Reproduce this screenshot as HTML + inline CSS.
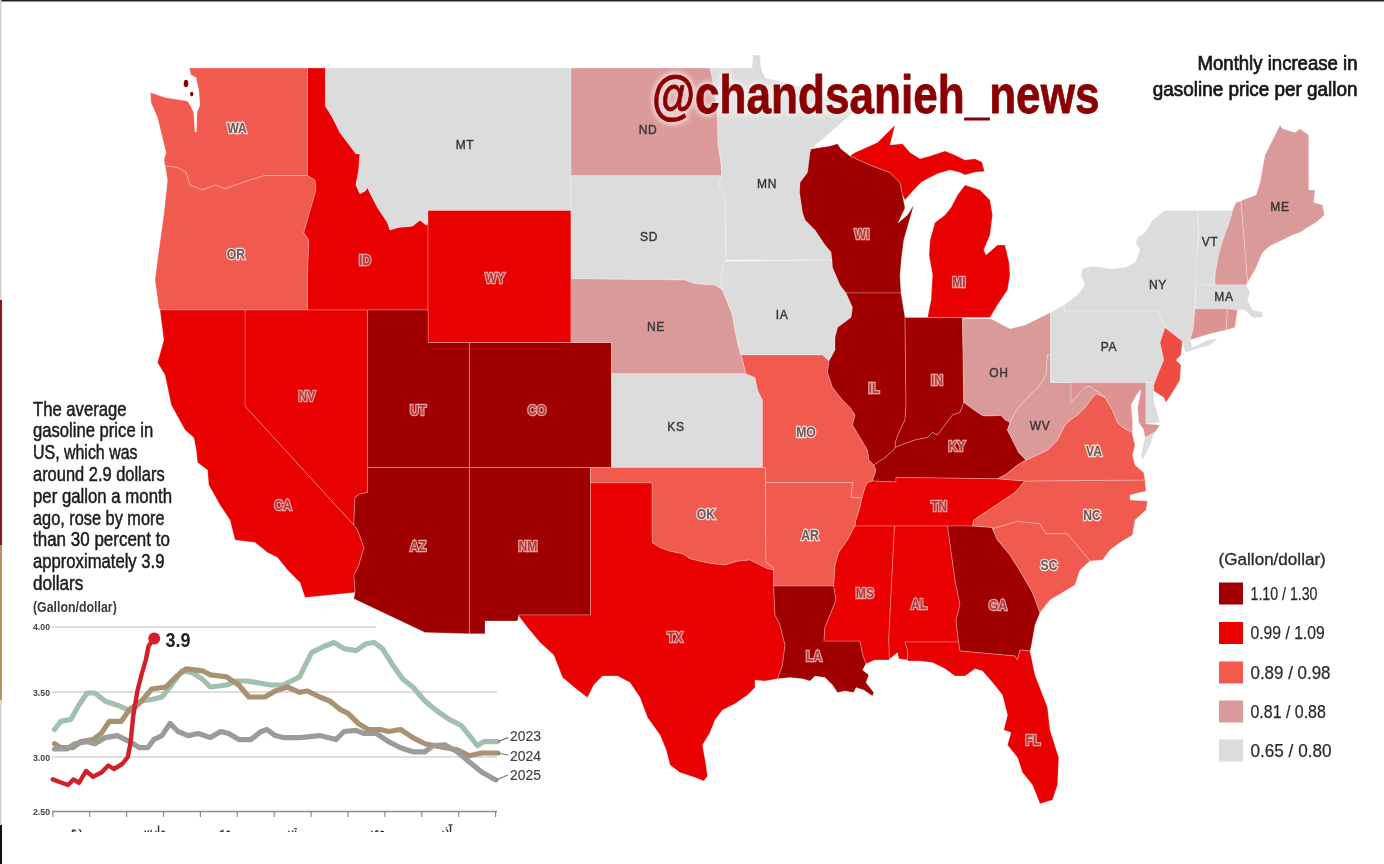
<!DOCTYPE html>
<html lang="en">
<head>
<meta charset="utf-8">
<title>Monthly increase in gasoline price per gallon</title>
<style>
html,body{margin:0;padding:0;background:#fff;}
body{width:1384px;height:864px;position:relative;overflow:hidden;font-family:"Liberation Sans",sans-serif;}
#map{position:absolute;left:0;top:0;display:block;}
text{font-family:"Liberation Sans",sans-serif;}
</style>
</head>
<body>
<svg id="map" width="1384" height="864" viewBox="0 0 1384 864">
<defs><filter id="glow" x="-5%" y="-30%" width="110%" height="160%"><feGaussianBlur stdDeviation="2.2"/></filter></defs>
<rect x="0" y="0" width="1384" height="1.5" fill="#222"/>
<rect x="0" y="0" width="1.5" height="864" fill="#d6d0c6"/>
<rect x="0" y="300" width="2" height="245" fill="#8a1a1a"/>
<rect x="0" y="545" width="2" height="155" fill="#b8915f"/>
<rect x="0" y="825" width="2" height="39" fill="#111"/>
<g stroke="#fff" stroke-opacity=".26" stroke-width="1" stroke-linejoin="round">
<polygon fill="#f15a4e" points="189.25,68 307.5,68 307.5,175.5 265,175.5 250,180 225,188.75 215,185 202.5,190 190,185 186,172.5 177.5,167.5 165,166 164,160 166,152.5 157.5,117.5 151,102.5 150.5,92.5 165,97.5 187.5,101 190,105 193.75,112.5 195,132 196.5,132 197,112.5 200,105 198.75,90 196,77.5 191,75"/>
<polygon fill="#f15a4e" points="165,166 177.5,167.5 186,172.5 190,185 202.5,190 215,185 225,188.75 250,180 265,175.5 307.5,175.5 315,180 316,190 303.75,232.5 308.75,240 307.5,276 307.5,310 160,310 158.75,307.5 155,280 157.5,260 163.75,215 167.5,180 166,171"/>
<polygon fill="#e90000" points="307.5,68 325.5,68 325.5,106 332.5,117.5 340,132.5 347.5,142.5 356,153.75 360,153.75 358.75,170 356,185 360,193.75 365,191 367.5,187.5 371,195 377.5,207.5 387.5,222.5 390,230 397.5,227.5 412.5,226 420,220 426,225 428,224 428,310 307.5,310 307.5,276 308.75,240 303.75,232.5 316,190 315,180 307.5,175.5"/>
<polygon fill="#dcdcdc" points="571,68 571,210.5 428,210.5 428,224 426,225 420,220 412.5,226 397.5,227.5 390,230 387.5,222.5 377.5,207.5 371,195 367.5,187.5 365,191 360,193.75 356,185 358.75,170 360,153.75 356,153.75 347.5,142.5 340,132.5 332.5,117.5 325.5,106 325.5,68"/>
<polygon fill="#e90000" points="428,210.5 571,210.5 571,342.5 428,342.5"/>
<polygon fill="#a00000" points="367.5,310 428,310 428,342.5 469.5,342.5 469.5,467.5 367.5,467.5"/>
<polygon fill="#a00000" points="469.5,342.5 611.5,342.5 611.5,467.5 469.5,467.5"/>
<polygon fill="#e90000" points="245,310 367.5,310 367.5,467.5 367.5,492.5 360,493.75 355,497.5 353.75,525 245,406.25"/>
<polygon fill="#a00000" points="367.5,467.5 367.5,492.5 360,493.75 355,497.5 353.75,525 357.5,530 363.75,547.5 358.75,565 353.75,575 355,592.5 353.75,598.75 425,632.5 469.5,633.75 469.5,467.5"/>
<polygon fill="#a00000" points="469.5,467.5 590.5,467.5 590.5,615 518.75,615 517.5,621 485,621 485,633.75 469.5,633.75"/>
<polygon fill="#e90000" points="160,310 245,310 245,406.25 353.75,525 357.5,530 363.75,547.5 358.75,565 353.75,575 355,592.5 305,597.5 300,582.5 287.5,570 277.5,557.5 267.5,552.5 255,542.5 235,540 230,520 220,505 208.75,485 207.5,470 197.5,462.5 196.25,450 193.75,437.5 185,430 171.25,405 165,375 157.5,362.5 163.75,340"/>
<polygon fill="#db9a9a" points="571,68 710,68 713.75,85 717.5,110 718,142.5 721.25,165 721.75,175.75 571,175.75"/>
<polygon fill="#dcdcdc" points="571,175.75 721.75,175.75 718.75,185 725,195 726,260 725,261 723.75,262.5 721,280 722.5,290 722.5,290 715,285 695,283.75 685,280 571,278.75"/>
<polygon fill="#db9a9a" points="571,278.75 685,280 695,283.75 715,285 722.5,290 727.5,302.5 732.5,315 735,330 738.75,347.5 741,355 742.5,360 746,373.75 611.5,373.75 611.5,342.5 571,342.5"/>
<polygon fill="#dcdcdc" points="611.5,373.75 746,373.75 755,377.5 757.5,390 762.5,400 762.5,467.5 611.5,467.5"/>
<polygon fill="#f15a4e" points="590.5,467.5 765.5,467.5 765.5,482.5 766,562 773.75,568 773.75,570 767.5,568.75 760,565 750,560 737.5,561.25 725,565 712.5,563.75 700,561.25 690,558.75 682.5,553.75 670,551.25 660,547.5 652,542.5 652,483 590.5,483"/>
<polygon fill="#e90000" points="590.5,483 652,483 652,542.5 660,547.5 670,551.25 682.5,553.75 690,558.75 700,561.25 712.5,563.75 725,565 737.5,561.25 750,560 760,565 767.5,568.75 773.75,570 773.75,586 773.75,590 775,615 780,625 785,645 782.5,665 777.5,678.75 765,681 755,680 755,687.5 747.5,695 735,703.75 722.5,710 715,720 710,732.5 702.5,745 706,765 707.5,776 703.75,781 695,777.5 680,772.5 670,765 666.25,750 660,735 647.5,717.5 640,697.5 630,682.5 617.5,676 602.5,676 593.75,685 587.5,697.5 577.5,690 562.5,677.5 553.75,655 540,642.5 527.5,627.5 518.75,616 518.75,615 590.5,615"/>
<polygon fill="#dcdcdc" points="710,68 752,68 753,55 760,55 761,68 765,78 784,82 813,91 837,100 863,104 840,124 811,149 810,152.5 807.5,172.5 800,182.5 799.5,192.5 802.5,212.5 805,220 815,230 825,245 831,252 832,260 726,260 725,195 718.75,185 721.75,175.75 721.25,165 718,142.5 717.5,110 713.75,85 710,68"/>
<polygon fill="#dcdcdc" points="725,261 832,260 832.5,267.5 840,285 846,293 852.5,307.5 851,317.5 837.5,327.5 835,337.5 835,350 829,361 822.5,355 741,355 738.75,347.5 735,330 732.5,315 727.5,302.5 722.5,290 721,280 723.75,262.5"/>
<polygon fill="#f15a4e" points="741,355 822.5,355 829,361 827.5,372.5 832.5,387.5 842.5,400 850,407.5 855,415 852.5,425 860,437.5 867.5,450 869,460 873.75,465 876,470 872.5,481 867.5,482.5 865,487.5 862,498 851,497.5 852.5,482.5 765.5,482.5 765.5,467.5 762.5,467.5 762.5,400 757.5,390 755,377.5 746,373.75 742.5,360"/>
<polygon fill="#f15a4e" points="765.5,482.5 852.5,482.5 851,497.5 862,498 860,507.5 856,520 855,526 847.5,540 838.75,552.5 835,565 833.75,586 773.75,586 773.75,568 766,562"/>
<polygon fill="#a00000" points="773.75,586 833.75,586 836,600 830,615 825,627.5 824,641 860,641 862.5,653.75 866,663.75 862.5,670 868.75,675 866,682.5 873.75,692.5 872.5,696 863.75,690 856,687.5 853.75,692.5 845,691 837.5,692.5 832.5,685 825,677.5 815,676 810,681 802.5,678.75 790,677.5 777.5,678.75 782.5,665 785,645 780,625 775,615 773.75,590 773.75,586"/>
<polygon fill="#a00000" points="811,149 830,146 837.5,143.75 841,149 850,156 870,165 890,172.5 900,182.5 902.5,195 905,208 898,223 907.5,215 913.75,205 908.75,222.5 903.75,240 901.25,260 900,276 901,293 846,293 840,285 832.5,267.5 832,260 831,252 825,245 815,230 805,220 802.5,212.5 799.5,192.5 800,182.5 807.5,172.5 810,152.5 811,149"/>
<polygon fill="#a00000" points="846,293 901,293 905,317.5 906,405 905,420 900,430 896,440 895,447.5 893.75,450 885,457.5 873.75,465 869,460 867.5,450 860,437.5 852.5,425 855,415 850,407.5 842.5,400 832.5,387.5 827.5,372.5 829,361 835,350 835,337.5 837.5,327.5 851,317.5 852.5,307.5 846,293"/>
<polygon fill="#a00000" points="905,317.5 962.5,317.5 963.75,402.5 960,412.5 952.5,415 945,425 937.5,435 932.5,432.5 927.5,437.5 915,440 907.5,442.5 895,447.5 896,440 900,430 905,420 906,405 905,317.5"/>
<polygon fill="#e90000" points="850,156 855,152.5 877.5,142.5 887.5,132.5 895,125 892.5,135 890,145 902.5,143.75 910,152.5 920,158.75 930,156 945,151 955,155 965,160 975,158.75 982,162 984.5,171.5 976,172 965,175 960,172.5 950,170 937.5,173.75 927.5,178.75 921,182.5 913.75,190 905,200 902.5,195 900,182.5 890,172.5 870,165 850,156"/>
<polygon fill="#e90000" points="927.5,317.5 931,300 932.5,275 929,255 930,240 935,222.5 945,215 951,207.5 957.5,195 965,185 980,190 990,200 992.5,215 990,235 983.75,250 986,255 997.5,245 1005,245 1009,262 1010,275 1007.5,290 997.5,305 990,317.5"/>
<polygon fill="#db9a9a" points="962.5,318.75 991,318.75 1010,328.75 1025,325 1050.5,312.5 1050.5,355 1047.5,355 1046,375 1040,385 1032.5,392.5 1022.5,402.5 1015,412.5 1010,422.5 1005,420 1001,415.5 992.5,416 983,416 972.5,409 963.75,402.5"/>
<polygon fill="#a00000" points="873.75,465 885,457.5 893.75,450 895,447.5 907.5,442.5 915,440 927.5,437.5 932.5,432.5 937.5,435 945,425 952.5,415 960,412.5 963.75,402.5 972.5,409 983,416 992.5,416 1001,415.5 1005,420 1010,422.5 1007.5,430 1013.75,442.5 1018.75,452.5 1026,460 1017.5,465 1005,475 997.5,478.75 896,477.5 896,482 872.5,481 876,470"/>
<polygon fill="#e90000" points="867.5,482.5 872.5,481 896,482 896,477.5 997.5,478.75 1025,481 1015,492.5 1000,502.5 985,512.5 973.75,520 972.5,526 855,526 856,520 860,507.5 862,498 865,487.5"/>
<polygon fill="#e90000" points="855,526 894.5,526 888.75,640 889.5,660 875,660 866,663.75 862.5,653.75 860,641 824,641 825,627.5 830,615 836,600 833.75,586 835,565 838.75,552.5 847.5,540 855,526"/>
<polygon fill="#e90000" points="894.5,526 947.5,526 955,580 960,605 956,620 958.5,642 905,642 907.5,650 907.5,660 898.75,658.75 897.5,652.5 890,658.75 889.5,660 888.75,640"/>
<polygon fill="#a00000" points="947.5,526 972.5,526 993.75,527.5 992.5,528.75 997.5,540 1010,555 1022.5,575 1032.5,592.5 1040,612.5 1035,625 1031,647.5 1030,651 1020,650 1017.5,660 1015,656 960,651 958.5,642 956,620 960,605 955,580 947.5,526"/>
<polygon fill="#e90000" points="905,642 958.5,642 960,651 1015,656 1017.5,660 1020,650 1030,651 1035,675 1047.5,707.5 1050,730 1058.75,757.5 1057.5,785 1052.5,800 1040,803.75 1032.5,785 1022.5,772.5 1017.5,757.5 1007.5,745 1011,732.5 1003.75,730 1007.5,715 1002.5,695 992.5,682.5 982.5,671 975,668.75 965,676 955,676 945,668.75 932.5,662.5 920,661 907.5,661 907.5,650"/>
<polygon fill="#f15a4e" points="992.5,528.75 1017.5,521.25 1040,523.75 1046,533.75 1067.5,533.75 1090,561 1080,570 1075,585 1050,600 1040,612.5 1032.5,592.5 1022.5,575 1010,555 997.5,540 992.5,528.75"/>
<polygon fill="#f15a4e" points="1025,481 1145,480 1146,491 1130,495 1130,500 1147.5,501 1146,510 1135,520 1132.5,535 1120,542.5 1110,550 1102.5,560 1090,561 1067.5,533.75 1046,533.75 1040,523.75 1017.5,521.25 992.5,528.75 993.75,527.5 972.5,526 973.75,520 985,512.5 1000,502.5 1015,492.5 1025,481"/>
<polygon fill="#f15a4e" points="1105,397.5 1112.5,410 1117.5,422.5 1122.5,427.5 1132.5,432.5 1132.5,435 1135,445 1132.5,455 1135,465 1143.75,472.5 1145,480 1025,481 997.5,478.75 1005,475 1017.5,465 1026,460 1035,456 1047.5,450 1057.5,440 1065,425 1070,420 1077.5,415 1085,407.5 1092.5,397.5 1096,393.75 1105,397.5"/>
<polygon fill="#dcdcdc" points="1145,437.5 1155,432 1150,445 1143,460 1141,455"/>
<polygon fill="#db9a9a" points="1050.5,355 1050.5,382.5 1071,382.5 1071,402.5 1077.5,395 1085,387.5 1090,386 1095,390 1100,392.5 1105,397.5 1096,393.75 1092.5,397.5 1085,407.5 1077.5,415 1070,420 1065,425 1057.5,440 1047.5,450 1035,456 1026,460 1018.75,452.5 1013.75,442.5 1007.5,430 1010,422.5 1015,412.5 1022.5,402.5 1032.5,392.5 1040,385 1046,375 1047.5,355 1050.5,355"/>
<polygon fill="#dcdcdc" points="1050.5,312.5 1063.75,305 1065,311 1157.5,311 1165,327.5 1160,342.5 1163.75,360 1157.5,375 1153.75,385 1152.5,382.5 1050.5,382.5"/>
<polygon fill="#de9292" points="1071,382.5 1146,382.5 1146,423.75 1160,425 1155,432 1145,437.5 1143.75,430 1138.75,422.5 1137.5,407.5 1141,391 1140,390 1135,397.5 1131,405 1132.5,420 1132.5,432.5 1122.5,427.5 1117.5,422.5 1112.5,410 1105,397.5 1100,392.5 1095,390 1090,386 1085,387.5 1077.5,395 1071,402.5 1071,382.5"/>
<polygon fill="#dcdcdc" points="1146,382.5 1152.5,382.5 1153.75,385 1153.75,400 1160,422.5 1146,423.75"/>
<polygon fill="#f04d42" points="1165,327.5 1182.5,341 1181,355 1176,360 1181,365 1180,380 1172.5,392.5 1166,402.5 1163.75,397.5 1153.75,391 1153.75,385 1157.5,375 1163.75,360 1160,342.5 1165,327.5"/>
<polygon fill="#dcdcdc" points="1063.75,305 1077.5,295 1085,285 1081,275 1082.5,268.75 1092.5,266 1110,268.75 1125,267.5 1135,262.5 1140,250 1136,242.5 1137.5,237.5 1145,232.5 1152.5,220 1165,210.5 1197.5,210.5 1198.75,235 1196,260 1196,285 1195,308.75 1193,330 1190,340 1192.5,347.5 1207.5,340 1217.5,338.75 1210,345 1185,352.5 1182.5,341 1165,327.5 1157.5,311 1065,311"/>
<polygon fill="#dcdcdc" points="1197.5,210.5 1232.5,210.5 1230,220 1221,245 1217.5,260 1215,275 1215,285 1196,285 1196,260 1198.75,235"/>
<polygon fill="#db9a9a" points="1236,202.5 1241,201 1247.5,280 1247.5,282.5 1246,285 1215,285 1215,275 1217.5,260 1221,245 1230,220 1232.5,210.5"/>
<polygon fill="#db9a9a" points="1241,201 1242.5,200 1256,195 1260,182.5 1265,155 1272.5,140 1280,125 1282.5,128.75 1295,132.5 1300,128.75 1308.75,135 1308.75,190 1315,190 1313.75,202.5 1322.5,205 1324.5,215 1316,222.5 1307.5,227.5 1300,232.5 1292.5,235 1282.5,240 1270,246 1262.5,252.5 1255,270 1247.5,282.5 1247.5,280"/>
<polygon fill="#dcdcdc" points="1196,285 1246,285 1250,292 1247.5,300 1252.5,310 1262.5,312 1262.5,317.5 1252.5,317.5 1245,310 1237.5,310 1195,308.75"/>
<polygon fill="#de9292" points="1195,308.75 1227.5,308.75 1226,330 1210,333.75 1190,340 1193,330"/>
<polygon fill="#de9292" points="1227.5,308.75 1237.5,310 1235,327.5 1226,330"/>
</g>
<ellipse cx="186" cy="83.5" rx="2.3" ry="3.8" fill="#8a0000"/><ellipse cx="191.7" cy="94" rx="1.7" ry="2.3" fill="#8a0000"/>
<g font-weight="bold" text-anchor="middle">
<text transform="translate(237 133) scale(1 1.15)" font-size="12.2" fill="#6a5a5a" stroke="#fbe3e1" stroke-width="2.3" stroke-opacity=".95" paint-order="stroke">WA</text>
<text transform="translate(236 259) scale(1 1.15)" font-size="12.2" fill="#6a5a5a" stroke="#fbe3e1" stroke-width="2.3" stroke-opacity=".95" paint-order="stroke">OR</text>
<text transform="translate(365 265) scale(1 1.15)" font-size="12.2" fill="#a84040" stroke="#f6a5a5" stroke-width="2.3" stroke-opacity=".95" paint-order="stroke">ID</text>
<text x="465" y="149.4" font-size="12" font-weight="normal" letter-spacing=".7" fill="#383838" stroke="#383838" stroke-width=".4">MT</text>
<text transform="translate(495 283) scale(1 1.15)" font-size="12.2" fill="#a84040" stroke="#f6a5a5" stroke-width="2.3" stroke-opacity=".95" paint-order="stroke">WY</text>
<text transform="translate(307 401) scale(1 1.15)" font-size="12.2" fill="#a84040" stroke="#f6a5a5" stroke-width="2.3" stroke-opacity=".95" paint-order="stroke">NV</text>
<text transform="translate(418 415) scale(1 1.15)" font-size="12.2" fill="#a84040" stroke="#f6a5a5" stroke-width="2.3" stroke-opacity=".95" paint-order="stroke">UT</text>
<text transform="translate(537 415) scale(1 1.15)" font-size="12.2" fill="#a84040" stroke="#f6a5a5" stroke-width="2.3" stroke-opacity=".95" paint-order="stroke">CO</text>
<text transform="translate(283 510) scale(1 1.15)" font-size="12.2" fill="#a84040" stroke="#f6a5a5" stroke-width="2.3" stroke-opacity=".95" paint-order="stroke">CA</text>
<text transform="translate(418 551) scale(1 1.15)" font-size="12.2" fill="#a84040" stroke="#f6a5a5" stroke-width="2.3" stroke-opacity=".95" paint-order="stroke">AZ</text>
<text transform="translate(528 551) scale(1 1.15)" font-size="12.2" fill="#a84040" stroke="#f6a5a5" stroke-width="2.3" stroke-opacity=".95" paint-order="stroke">NM</text>
<text x="648" y="134.4" font-size="12" font-weight="normal" letter-spacing=".7" fill="#383838" stroke="#383838" stroke-width=".4">ND</text>
<text x="649" y="241.4" font-size="12" font-weight="normal" letter-spacing=".7" fill="#383838" stroke="#383838" stroke-width=".4">SD</text>
<text x="656" y="331.4" font-size="12" font-weight="normal" letter-spacing=".7" fill="#383838" stroke="#383838" stroke-width=".4">NE</text>
<text x="676" y="431.4" font-size="12" font-weight="normal" letter-spacing=".7" fill="#383838" stroke="#383838" stroke-width=".4">KS</text>
<text transform="translate(706 519) scale(1 1.15)" font-size="12.2" fill="#6a5a5a" stroke="#fbe3e1" stroke-width="2.3" stroke-opacity=".95" paint-order="stroke">OK</text>
<text transform="translate(675 642) scale(1 1.15)" font-size="12.2" fill="#a84040" stroke="#f6a5a5" stroke-width="2.3" stroke-opacity=".95" paint-order="stroke">TX</text>
<text x="767" y="188.4" font-size="12" font-weight="normal" letter-spacing=".7" fill="#383838" stroke="#383838" stroke-width=".4">MN</text>
<text x="782" y="319.4" font-size="12" font-weight="normal" letter-spacing=".7" fill="#383838" stroke="#383838" stroke-width=".4">IA</text>
<text transform="translate(806 437) scale(1 1.15)" font-size="12.2" fill="#6a5a5a" stroke="#fbe3e1" stroke-width="2.3" stroke-opacity=".95" paint-order="stroke">MO</text>
<text transform="translate(810 540) scale(1 1.15)" font-size="12.2" fill="#6a5a5a" stroke="#fbe3e1" stroke-width="2.3" stroke-opacity=".95" paint-order="stroke">AR</text>
<text transform="translate(814 661) scale(1 1.15)" font-size="12.2" fill="#a84040" stroke="#f6a5a5" stroke-width="2.3" stroke-opacity=".95" paint-order="stroke">LA</text>
<text transform="translate(862 239) scale(1 1.15)" font-size="12.2" fill="#a84040" stroke="#f6a5a5" stroke-width="2.3" stroke-opacity=".95" paint-order="stroke">WI</text>
<text transform="translate(874 393) scale(1 1.15)" font-size="12.2" fill="#a84040" stroke="#f6a5a5" stroke-width="2.3" stroke-opacity=".95" paint-order="stroke">IL</text>
<text transform="translate(937 385) scale(1 1.15)" font-size="12.2" fill="#a84040" stroke="#f6a5a5" stroke-width="2.3" stroke-opacity=".95" paint-order="stroke">IN</text>
<text transform="translate(959 287) scale(1 1.15)" font-size="12.2" fill="#a84040" stroke="#f6a5a5" stroke-width="2.3" stroke-opacity=".95" paint-order="stroke">MI</text>
<text x="999" y="377.4" font-size="12" font-weight="normal" letter-spacing=".7" fill="#383838" stroke="#383838" stroke-width=".4">OH</text>
<text transform="translate(957 451) scale(1 1.15)" font-size="12.2" fill="#a84040" stroke="#f6a5a5" stroke-width="2.3" stroke-opacity=".95" paint-order="stroke">KY</text>
<text transform="translate(939 511) scale(1 1.15)" font-size="12.2" fill="#a84040" stroke="#f6a5a5" stroke-width="2.3" stroke-opacity=".95" paint-order="stroke">TN</text>
<text transform="translate(865 598) scale(1 1.15)" font-size="12.2" fill="#a84040" stroke="#f6a5a5" stroke-width="2.3" stroke-opacity=".95" paint-order="stroke">MS</text>
<text transform="translate(919 609) scale(1 1.15)" font-size="12.2" fill="#a84040" stroke="#f6a5a5" stroke-width="2.3" stroke-opacity=".95" paint-order="stroke">AL</text>
<text transform="translate(998 610) scale(1 1.15)" font-size="12.2" fill="#a84040" stroke="#f6a5a5" stroke-width="2.3" stroke-opacity=".95" paint-order="stroke">GA</text>
<text transform="translate(1033 745) scale(1 1.15)" font-size="12.2" fill="#a84040" stroke="#f6a5a5" stroke-width="2.3" stroke-opacity=".95" paint-order="stroke">FL</text>
<text transform="translate(1049 570) scale(1 1.15)" font-size="12.2" fill="#6a5a5a" stroke="#fbe3e1" stroke-width="2.3" stroke-opacity=".95" paint-order="stroke">SC</text>
<text transform="translate(1092 520) scale(1 1.15)" font-size="12.2" fill="#6a5a5a" stroke="#fbe3e1" stroke-width="2.3" stroke-opacity=".95" paint-order="stroke">NC</text>
<text transform="translate(1094 456) scale(1 1.15)" font-size="12.2" fill="#6a5a5a" stroke="#fbe3e1" stroke-width="2.3" stroke-opacity=".95" paint-order="stroke">VA</text>
<text x="1040" y="430.4" font-size="12" font-weight="normal" letter-spacing=".7" fill="#383838" stroke="#383838" stroke-width=".4">WV</text>
<text x="1109" y="351.4" font-size="12" font-weight="normal" letter-spacing=".7" fill="#383838" stroke="#383838" stroke-width=".4">PA</text>
<text x="1158" y="289.4" font-size="12" font-weight="normal" letter-spacing=".7" fill="#383838" stroke="#383838" stroke-width=".4">NY</text>
<text x="1210" y="246.4" font-size="12" font-weight="normal" letter-spacing=".7" fill="#383838" stroke="#383838" stroke-width=".4">VT</text>
<text x="1280" y="211.4" font-size="12" font-weight="normal" letter-spacing=".7" fill="#383838" stroke="#383838" stroke-width=".4">ME</text>
<text x="1224" y="301.4" font-size="12" font-weight="normal" letter-spacing=".7" fill="#383838" stroke="#383838" stroke-width=".4">MA</text>
</g>
<g fill="none">
<path d="M52 627H376M52 692H497M52 757H497" stroke="#dedede" stroke-width="2"/>
<path d="M52 811.5H497" stroke="#8c8c8c" stroke-width="1.6"/>
<path d="M52.8 811V817M89.7 811V817M126.6 811V817M163.5 811V817M200.4 811V817M237.3 811V817M274.2 811V817M311.1 811V817M348 811V817M384.9 811V817M421.8 811V817M458.7 811V817M495.6 811V817" stroke="#8c8c8c" stroke-width="1.2"/>
<polyline points="54.6,729.5 60.7,721.4 70.8,719.4 78.9,705.2 87,693 95,693 105.2,701.2 117.4,705.2 131.5,711.3 141.6,701 153.8,699 161.9,697 170,687 182,670.8 192.2,672.8 202.3,679 210.4,687 226.6,685 236.7,681 246.9,681 259,683 271,685 283.3,685 299.5,676.9 311.6,652.6 323.7,646.5 333.9,642.5 344,648.6 356,650.6 366.2,643.7 374.3,642.5 382.4,648.6 392.5,664.7 402.7,679 412.8,687 424.9,701 437,711 449.2,719.4 461.3,725.5 469.4,735.6 477.5,745.7 483.6,741.6 497.8,741.6" stroke="#a2c0b1" stroke-width="5.2" stroke-linejoin="round" stroke-linecap="round"/>
<polyline points="54.6,743.7 60.7,747.7 72.8,747.7 80.9,741.6 93,739.6 101.2,733.5 109.3,721.4 121.4,721.4 129.5,709.3 141.6,701 151.8,689 165.9,687 176,676.9 186.2,668.8 202.3,670.8 210.4,674.9 226.6,676.9 238.8,685 248.9,697 265,697 275.2,691 287.3,687 299.5,692.3 307.6,691 319.7,697 329.8,701 340,709.3 348,713.3 358.2,723.4 368.3,729.5 380.4,729.5 388.5,731.5 400.6,729.5 412.8,737.6 424.9,743.7 445.2,747.7 457.3,749.7 469.4,755.8 481.6,753 497.8,753" stroke="#a89272" stroke-width="5.2" stroke-linejoin="round" stroke-linecap="round"/>
<polyline points="54.6,749 66.8,749 74.9,743.7 87,741.6 95,743.7 105.2,737.6 117.4,735.6 129.5,741.6 139.6,747.7 147.7,747.7 153.8,739.6 161.9,735.6 170,723.4 178,731.5 188.2,735.6 198.3,733.5 210.4,737.6 220.6,731.5 228.7,733.5 238.8,739.6 250.9,739.6 261,731.5 267.1,729.5 275.2,735.6 283.3,737.6 299.5,737.6 319.7,735.6 335.9,739.6 344,731.5 356,730.3 364.2,733.5 376.4,733.5 388.5,741.6 400.6,747.7 412.8,751.8 424.9,751.8 433,745.7 445.2,744.9 457.3,751.8 469.4,761.9 481.6,772 495.8,780" stroke="#9b9b9b" stroke-width="5.2" stroke-linejoin="round" stroke-linecap="round"/>
<polyline points="52.8,779.4 59.7,782 68,785 73.6,779.4 79,782.8 86,771 93,776.7 101.4,772.5 108.3,765.5 113.9,769 122.2,764 127.8,757 130.5,743 133.3,715.5 137.5,690.5 141.7,674 145.8,660 148.6,646 154,638.6" stroke="#d21f2c" stroke-width="4.4" stroke-linejoin="round" stroke-linecap="round"/>
<path d="M498 741.6L508 737.6M498 753L508 755M496 780L508 775" stroke="#777" stroke-width="1.2"/>
</g>
<clipPath id="cut"><rect x="40" y="820" width="470" height="12"/></clipPath><g clip-path="url(#cut)" font-size="10.5" font-weight="bold" fill="#333" text-anchor="middle" style="font-family:'DejaVu Sans',sans-serif"><text x="75" y="833.5">دی</text><text x="152" y="833.5">مارس</text><text x="225" y="833.5">مه</text><text x="291" y="833.5">تیر</text><text x="376" y="833.5">مهر</text><text x="445" y="833.5">آذر</text></g>
<circle cx="154.2" cy="638.6" r="6" fill="#d21f2c"/>
<text x="165.5" y="646.5" font-size="20" textLength="25" lengthAdjust="spacingAndGlyphs" fill="#222" font-weight="bold">3.9</text>
<text x="33" y="630.2" font-size="9.5" textLength="17" lengthAdjust="spacingAndGlyphs" fill="#444" font-weight="bold">4.00</text>
<text x="33" y="695.7" font-size="9.5" textLength="17" lengthAdjust="spacingAndGlyphs" fill="#444" font-weight="bold">3.50</text>
<text x="33" y="761.2" font-size="9.5" textLength="17" lengthAdjust="spacingAndGlyphs" fill="#444" font-weight="bold">3.00</text>
<text x="33" y="815.2" font-size="9.5" textLength="17" lengthAdjust="spacingAndGlyphs" fill="#444" font-weight="bold">2.50</text>
<text x="510" y="740.5" font-size="15.5" textLength="31" lengthAdjust="spacingAndGlyphs" fill="#444" stroke="#444" stroke-width="0.2">2023</text>
<text x="510" y="760.5" font-size="15.5" textLength="31" lengthAdjust="spacingAndGlyphs" fill="#444" stroke="#444" stroke-width="0.2">2024</text>
<text x="510" y="779.5" font-size="15.5" textLength="31" lengthAdjust="spacingAndGlyphs" fill="#444" stroke="#444" stroke-width="0.2">2025</text>
<text x="652" y="112.5" font-size="54" textLength="447.5" lengthAdjust="spacingAndGlyphs" fill="#fff" opacity=".55" filter="url(#glow)" font-weight="bold" stroke="#fff" stroke-width="7" stroke-linejoin="round">@chandsanieh_news</text>
<text x="652" y="112.5" font-size="54" textLength="447.5" lengthAdjust="spacingAndGlyphs" fill="#8a0000" font-weight="bold" stroke="#8a0000" stroke-width="0.8" stroke-linejoin="round">@chandsanieh_news</text>
<text x="1197.5" y="69.9" font-size="19.7" textLength="160" lengthAdjust="spacingAndGlyphs" fill="#161616" stroke="#161616" stroke-width="0.7">Monthly increase in</text>
<text x="1152.8" y="95.7" font-size="19.7" textLength="204.7" lengthAdjust="spacingAndGlyphs" fill="#161616" stroke="#161616" stroke-width="0.7">gasoline price per gallon</text>
<text x="33" y="415.5" font-size="19.3" textLength="93.5" lengthAdjust="spacingAndGlyphs" fill="#1c1c1c" stroke="#1c1c1c" stroke-width="0.5">The average</text>
<text x="33" y="437.3" font-size="19.3" textLength="120.2" lengthAdjust="spacingAndGlyphs" fill="#1c1c1c" stroke="#1c1c1c" stroke-width="0.5">gasoline price in</text>
<text x="33" y="459.3" font-size="19.3" textLength="104.5" lengthAdjust="spacingAndGlyphs" fill="#1c1c1c" stroke="#1c1c1c" stroke-width="0.5">US, which was</text>
<text x="33" y="481.3" font-size="19.3" textLength="131.6" lengthAdjust="spacingAndGlyphs" fill="#1c1c1c" stroke="#1c1c1c" stroke-width="0.5">around 2.9 dollars</text>
<text x="33" y="503" font-size="19.3" textLength="139" lengthAdjust="spacingAndGlyphs" fill="#1c1c1c" stroke="#1c1c1c" stroke-width="0.5">per gallon a month</text>
<text x="33" y="524.6" font-size="19.3" textLength="131.5" lengthAdjust="spacingAndGlyphs" fill="#1c1c1c" stroke="#1c1c1c" stroke-width="0.5">ago, rose by more</text>
<text x="33" y="546.4" font-size="19.3" textLength="136.9" lengthAdjust="spacingAndGlyphs" fill="#1c1c1c" stroke="#1c1c1c" stroke-width="0.5">than 30 percent to</text>
<text x="33" y="568.1" font-size="19.3" textLength="131.5" lengthAdjust="spacingAndGlyphs" fill="#1c1c1c" stroke="#1c1c1c" stroke-width="0.5">approximately 3.9</text>
<text x="33" y="589.8" font-size="19.3" textLength="50.3" lengthAdjust="spacingAndGlyphs" fill="#1c1c1c" stroke="#1c1c1c" stroke-width="0.5">dollars</text>
<text x="33" y="611.5" font-size="15.5" textLength="83.8" lengthAdjust="spacingAndGlyphs" fill="#3a3a3a" font-weight="bold">(Gallon/dollar)</text>
<text x="1218.6" y="564.8" font-size="16" textLength="107.2" lengthAdjust="spacingAndGlyphs" fill="#2a2a2a" stroke="#2a2a2a" stroke-width="0.3">(Gallon/dollar)</text>
<rect x="1219" y="582.5" width="24" height="22" fill="#a00000"/>
<text x="1250.5" y="599.8" font-size="18.5" textLength="67" lengthAdjust="spacingAndGlyphs" fill="#2a2a2a" stroke="#2a2a2a" stroke-width="0.25">1.10 / 1.30</text>
<rect x="1219" y="622" width="24" height="22" fill="#e90000"/>
<text x="1250.5" y="639.3" font-size="18.5" textLength="74.2" lengthAdjust="spacingAndGlyphs" fill="#2a2a2a" stroke="#2a2a2a" stroke-width="0.25">0.99 / 1.09</text>
<rect x="1219" y="661.5" width="24" height="22" fill="#f15a4e"/>
<text x="1250.5" y="678.8" font-size="18.5" textLength="80" lengthAdjust="spacingAndGlyphs" fill="#2a2a2a" stroke="#2a2a2a" stroke-width="0.25">0.89 / 0.98</text>
<rect x="1219" y="700.5" width="24" height="22" fill="#db9a9a"/>
<text x="1250.5" y="717.8" font-size="18.5" textLength="75.3" lengthAdjust="spacingAndGlyphs" fill="#2a2a2a" stroke="#2a2a2a" stroke-width="0.25">0.81 / 0.88</text>
<rect x="1219" y="739.5" width="24" height="22" fill="#dcdcdc"/>
<text x="1250.5" y="756.8" font-size="18.5" textLength="81" lengthAdjust="spacingAndGlyphs" fill="#2a2a2a" stroke="#2a2a2a" stroke-width="0.25">0.65 / 0.80</text>
</svg>
</body>
</html>
